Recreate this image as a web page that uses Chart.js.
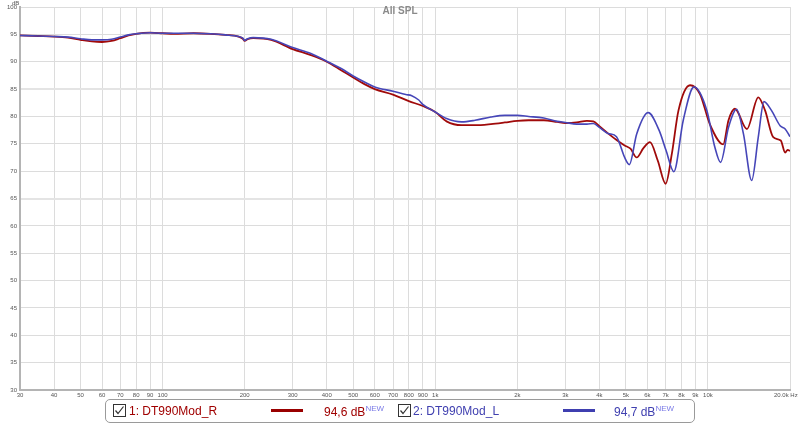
<!DOCTYPE html>
<html lang="en">
<head>
    <meta charset="UTF-8">
    <title>All SPL</title>
    <style>
        body {
            margin: 0;
            background: #ffffff;
            font-family: "Liberation Sans", Arial, sans-serif;
        }

        .wrap {
            position: relative;
            width: 800px;
            height: 425px;
            overflow: hidden;
        }

        .chart-box {
            position: absolute;
            left: 0;
            top: 0;
            width: 800px;
            height: 400px;
        }

        .title {
            position: absolute;
            left: 0;
            width: 800px;
            top: 5px;
            text-align: center;
            font-size: 10px;
            font-weight: bold;
            color: #8a8a8a;
        }

        .unit {
            position: absolute;
            font-size: 6px;
            color: #555;
            white-space: nowrap;
        }

        .legend {
            position: absolute;
            left: 105px;
            top: 399px;
            width: 588px;
            height: 22px;
            border: 1px solid #9a9a9a;
            border-radius: 5px;
            background: #fff;
        }

        .legend span, .legend svg, .legend i {
            position: absolute;
        }

        .legend .name, .legend .val {
            top: 4px;
            font-size: 12px;
        }

        .legend sup {
            font-size: 8px;
            color: #7a7ae6;
            vertical-align: 5px;
        }

        .legend i {
            top: 9px;
            height: 3px;
            width: 32px;
        }
    </style>
</head>
<body>

<div class="wrap">
    <div class="chart-box">
        <canvas id="splChart"></canvas>
    </div>
    <div class="title">All SPL</div>
    <div class="unit" style="left:12px; top:0px;">dB</div>
    <div class="unit" style="left:774px; top:392px;">20.0k Hz</div>

    <div class="legend">
        <svg style="left:7px; top:4px;" width="13" height="13" viewBox="0 0 13 13">
            <rect x="0.5" y="0.5" width="12" height="12" fill="#fff" stroke="#333"/>
            <polyline points="2.5,6.5 5,9.5 10.5,2.5" fill="none" stroke="#333" stroke-width="1.2"/>
        </svg>
        <span class="name" style="left:23px; color:#a00000;">1: DT990Mod_R</span>
        <i style="left:165px; background:#990000;"></i>
        <span class="val" style="left:218px; color:#a00000;">94,6 dB<sup>NEW</sup></span>

        <svg style="left:292px; top:4px;" width="13" height="13" viewBox="0 0 13 13">
            <rect x="0.5" y="0.5" width="12" height="12" fill="#fff" stroke="#333"/>
            <polyline points="2.5,6.5 5,9.5 10.5,2.5" fill="none" stroke="#333" stroke-width="1.2"/>
        </svg>
        <span class="name" style="left:307px; color:#4040b0;">2: DT990Mod_L</span>
        <i style="left:457px; background:#3f3fb0;"></i>
        <span class="val" style="left:508px; color:#4040b0;">94,7 dB<sup>NEW</sup></span>
    </div>
</div>

<script src="https://cdn.jsdelivr.net/npm/chart.js"></script>
<script>
    // x axis ticks (Hz) and their labels; the last one ("20.0k Hz") is written in the page
    const xTicks = [30, 40, 50, 60, 70, 80, 90, 100, 200, 300, 400, 500, 600, 700, 800, 900,
        1000, 2000, 3000, 4000, 5000, 6000, 7000, 8000, 9000, 10000, 20000];
    const xLabels = ['30', '40', '50', '60', '70', '80', '90', '100', '200', '300', '400', '500',
        '600', '700', '800', '900', '1k', '2k', '3k', '4k', '5k', '6k', '7k', '8k', '9k', '10k', ''];

    // 1: DT990Mod_R (red)
    const freqR = [30, 35, 40, 45, 50, 55, 60, 65, 70, 75, 80, 90, 100, 110, 130, 150, 170, 190, 197,
        200, 205, 215, 250, 300, 350, 400, 450, 500, 550, 600, 700, 800, 900, 1000, 1100, 1250,
        1400, 1600, 1800, 2000, 2200, 2500, 2800, 3000, 3300, 3600, 3800, 4000, 4300, 4650, 4950,
        5200, 5480, 5800, 6130, 6550, 7000, 7370, 7800, 8600, 9350, 10160, 11380, 11900, 12560,
        13900, 15300, 16200, 17360, 18500, 19200, 19600, 20000];
    const splR = [94.8, 94.7, 94.6, 94.4, 94.0, 93.7, 93.6, 93.8, 94.3, 94.8, 95.1, 95.3, 95.2, 95.1,
        95.2, 95.1, 94.9, 94.6, 94.2, 93.8, 94.1, 94.3, 94.0, 92.3, 91.2, 90.0, 88.5, 87.1, 85.9,
        85.0, 84.0, 82.8, 81.9, 80.8, 79.1, 78.4, 78.4, 78.6, 78.9, 79.2, 79.3, 79.3, 79.0, 78.8,
        78.9, 79.2, 79.1, 78.2, 76.9, 75.6, 74.7, 74.1, 72.5, 74.2, 75.3, 71.9, 67.7, 73.1, 81.1,
        85.7, 84.1, 78.6, 74.9, 79.3, 81.4, 77.7, 83.5, 81.1, 76.2, 75.6, 73.4, 73.9, 73.7];

    // 2: DT990Mod_L (blue)
    const freqL = [30, 35, 40, 45, 50, 55, 60, 65, 70, 75, 80, 90, 100, 110, 130, 150, 170, 190, 197,
        200, 205, 215, 250, 300, 350, 400, 450, 500, 550, 600, 700, 780, 820, 870, 900, 1000, 1100,
        1250, 1400, 1600, 1800, 2000, 2200, 2500, 2800, 3000, 3300, 3600, 3800, 4000, 4300, 4620,
        4950, 5150, 5480, 6040, 6630, 7020, 7500, 8120, 8890, 9910, 10600, 11130, 11900, 12740,
        13500, 14470, 15300, 16050, 17100, 18400, 19200, 20000];
    const splL = [94.8, 94.7, 94.6, 94.5, 94.2, 94.0, 94.0, 94.1, 94.5, 94.9, 95.1, 95.3, 95.2, 95.2,
        95.2, 95.1, 94.9, 94.6, 94.3, 93.9, 94.2, 94.4, 94.1, 92.6, 91.5, 90.1, 88.8, 87.4, 86.3,
        85.4, 84.6, 84.0, 83.8, 83.0, 82.2, 80.8, 79.6, 79.0, 79.3, 79.9, 80.2, 80.2, 80.0, 79.7,
        79.1, 78.9, 78.6, 78.6, 78.7, 78.0, 76.9, 76.3, 72.5, 71.2, 76.8, 80.7, 77.4, 73.8, 69.9,
        79.3, 85.4, 81.1, 74.4, 71.6, 78.0, 81.3, 76.8, 68.3, 76.2, 82.7, 81.1, 78.3, 77.7, 76.3];

    const toPoints = (fs, vs) => fs.map((f, i) => ({x: f, y: vs[i]}));

    const tickFont = {family: '"Liberation Sans", Arial, sans-serif', size: 6};

    const config = {
        type: 'line',
        data: {
            datasets: [{
                label: '1: DT990Mod_R',
                data: toPoints(freqR, splR),
                borderColor: '#a00a0a',
                borderWidth: 1.8,
                pointRadius: 0,
                cubicInterpolationMode: 'monotone',
                order: 1
            }, {
                label: '2: DT990Mod_L',
                data: toPoints(freqL, splL),
                borderColor: '#4646b8',
                borderWidth: 1.6,
                pointRadius: 0,
                cubicInterpolationMode: 'monotone',
                order: 0
            }]
        },
        options: {
            responsive: true,
            maintainAspectRatio: false,
            animation: false,
            layout: {
                padding: {top: 7, right: 10, left: 0, bottom: 0}
            },
            plugins: {
                legend: {display: false},
                tooltip: {enabled: false}
            },
            scales: {
                x: {
                    type: 'logarithmic',
                    min: 30,
                    max: 20000,
                    afterBuildTicks: (axis) => {
                        axis.ticks = xTicks.map(v => ({value: v}));
                    },
                    afterFit: (axis) => {
                        axis.height = 10;
                    },
                    ticks: {
                        autoSkip: false,
                        maxRotation: 0,
                        minRotation: 0,
                        padding: 2,
                        color: '#555',
                        font: tickFont,
                        callback: (value, index) => xLabels[index]
                    },
                    grid: {
                        color: '#dcdcdc',
                        drawTicks: false
                    },
                    border: {
                        color: '#b4b4b4',
                        width: 2
                    }
                },
                y: {
                    min: 30,
                    max: 100,
                    afterFit: (axis) => {
                        axis.width = 20;
                    },
                    ticks: {
                        stepSize: 5,
                        padding: 3,
                        color: '#555',
                        font: tickFont
                    },
                    grid: {
                        drawTicks: false,
                        color: (ctx) => (ctx.tick && (ctx.tick.value === 65 || ctx.tick.value === 85)) ? '#e4e4e4' : '#dcdcdc',
                        lineWidth: (ctx) => (ctx.tick && (ctx.tick.value === 65 || ctx.tick.value === 85)) ? 2 : 1
                    },
                    border: {
                        color: '#b4b4b4',
                        width: 2
                    }
                }
            }
        }
    };

    const splChart = new Chart(document.getElementById('splChart'), config);
</script>

</body>
</html>
